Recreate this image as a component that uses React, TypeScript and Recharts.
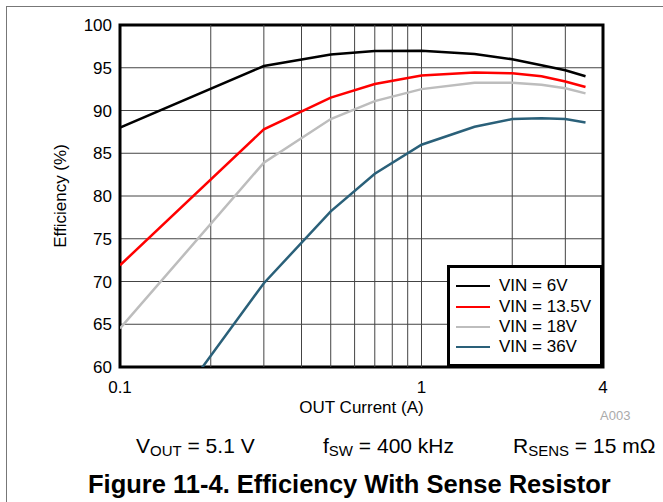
import {
  LineChart,
  Line,
  XAxis,
  YAxis,
  CartesianGrid,
  ReferenceLine,
  ReferenceArea,
  Legend,
  Label,
} from "recharts";

// Output current (A), log axis
const currents = [0.1, 0.3, 0.5, 0.7, 1, 1.5, 2, 2.5, 3, 3.5];

// Efficiency (%) per input voltage
const vin6 = [88.0, 95.2, 96.55, 96.95, 97.0, 96.6, 96.0, 95.3, 94.7, 94.0];
const vin135 = [71.9, 87.8, 91.5, 93.1, 94.1, 94.45, 94.35, 94.0, 93.4, 92.75];
const vin18 = [64.5, 83.9, 89.0, 91.1, 92.5, 93.25, 93.25, 93.0, 92.6, 92.0];
const vin36 = [46.8, 69.8, 78.2, 82.6, 86.0, 88.1, 89.0, 89.1, 89.0, 88.6];

const seriesNames = ["VIN = 6V", "VIN = 13.5V", "VIN = 18V", "VIN = 36V"];
const seriesColors = ["#000000", "#ff0000", "#bdbdbd", "#2a6079"];

const xTicks = [0.1, 1, 4];
const xGrid = [0.2, 0.3, 0.4, 0.5, 0.6, 0.7, 0.8, 0.9, 1, 2, 3];
const yTicks = [60, 65, 70, 75, 80, 85, 90, 95, 100];

const data = currents.map((c, i) => ({
  current: c,
  v6: vin6[i],
  v135: vin135[i],
  v18: vin18[i],
  v36: vin36[i],
}));

const keys = ["v6", "v135", "v18", "v36"];
const FONT = "'Liberation Sans', Arial, Helvetica, sans-serif";

function LegendBox(props: any) {
  // keep the series order, not alphabetical
  const items = [...(props.payload || [])].sort(
    (a: any, b: any) => seriesNames.indexOf(a.value) - seriesNames.indexOf(b.value)
  );
  return (
    <div
      style={{
        width: 156,
        height: 102,
        boxSizing: "border-box",
        border: "3px solid #000",
        background: "#fff",
        padding: "8px 0 0 6px",
        fontFamily: FONT,
      }}
    >
      {items.map((it: any) => (
        <div
          key={it.value}
          style={{ display: "flex", alignItems: "center", height: 20.4 }}
        >
          <span
            style={{
              display: "inline-block",
              width: 34,
              height: 0,
              borderTop: `2.5px solid ${it.color}`,
              marginRight: 9,
            }}
          />
          <span style={{ fontSize: 17, lineHeight: "20px", color: "#000" }}>
            {it.value}
          </span>
        </div>
      ))}
    </div>
  );
}

export default function App() {
  return (
    <div
      style={{
        position: "absolute",
        left: 0,
        top: 0,
        width: 663,
        height: 502,
        background: "#fff",
        fontFamily: FONT,
        overflow: "hidden",
      }}
    >
      {/* page frame */}
      <div style={{ position: "absolute", left: 6, top: 6, width: 657, borderTop: "1.5px solid #777" }} />
      <div style={{ position: "absolute", left: 6, top: 6, height: 496, borderLeft: "1.5px solid #777" }} />

      <LineChart
        width={663}
        height={502}
        data={data}
        margin={{ top: 25, right: 60, left: 0, bottom: 55 }}
        style={{ fontFamily: FONT }}
      >
        <CartesianGrid vertical={false} stroke="#444" strokeWidth={1} />
        {xGrid.map((g) => (
          <ReferenceLine key={g} x={g} stroke="#444" strokeWidth={1} />
        ))}
        <XAxis
          dataKey="current"
          type="number"
          scale="log"
          domain={[0.1, 4]}
          ticks={xTicks}
          allowDataOverflow
          axisLine={false}
          tickLine={false}
          tickMargin={8}
          height={80}
          tick={{ fontSize: 17, fill: "#000" }}
          tickFormatter={(v: number) => String(v)}
        >
          <Label value="OUT Current (A)" position="center" fontSize={17} fill="#000" />
        </XAxis>
        <YAxis
          type="number"
          domain={[60, 100]}
          ticks={yTicks}
          allowDataOverflow
          axisLine={false}
          tickLine={false}
          width={120}
          tick={{ fontSize: 17, fill: "#000" }}
        >
          <Label value="Efficiency (%)" angle={-90} position="center" fontSize={17} fill="#000" />
        </YAxis>
        {keys.map((k, i) => (
          <Line
            key={k}
            dataKey={k}
            name={seriesNames[i]}
            type="linear"
            stroke={seriesColors[i]}
            strokeWidth={2.5}
            dot={false}
            isAnimationActive={false}
          />
        ))}
        <ReferenceArea
          x1={0.1}
          x2={4}
          y1={60}
          y2={100}
          fill="none"
          fillOpacity={0}
          stroke="#000"
          strokeWidth={3}
        />
        <Legend
          layout="horizontal"
          verticalAlign="middle"
          align="center"
          content={<LegendBox />}
          wrapperStyle={{ left: 447, top: 265, width: 156, height: 102 }}
        />
      </LineChart>

      <div style={{ position: "absolute", left: 600, top: 408, fontSize: 13, color: "#aaa" }}>A003</div>

      {/* operating conditions */}
      <div style={{ position: "absolute", left: 136, top: 434, fontSize: 21, whiteSpace: "pre", lineHeight: "24px" }}>
        V<span style={{ fontSize: 15, position: "relative", top: 3 }}>OUT</span> = 5.1 V
      </div>
      <div style={{ position: "absolute", left: 323, top: 434, fontSize: 21, whiteSpace: "pre", lineHeight: "24px" }}>
        f<span style={{ fontSize: 15, position: "relative", top: 3 }}>SW</span> = 400 kHz
      </div>
      <div style={{ position: "absolute", left: 513, top: 434, fontSize: 21, whiteSpace: "pre", lineHeight: "24px" }}>
        R<span style={{ fontSize: 15, position: "relative", top: 3 }}>SENS</span> = 15 mΩ
      </div>

      <div
        style={{
          position: "absolute",
          left: 88,
          top: 470,
          fontSize: 25.5,
          fontWeight: "bold",
          whiteSpace: "pre",
          lineHeight: "28px",
        }}
      >
        Figure 11-4. Efficiency With Sense Resistor
      </div>
    </div>
  );
}
